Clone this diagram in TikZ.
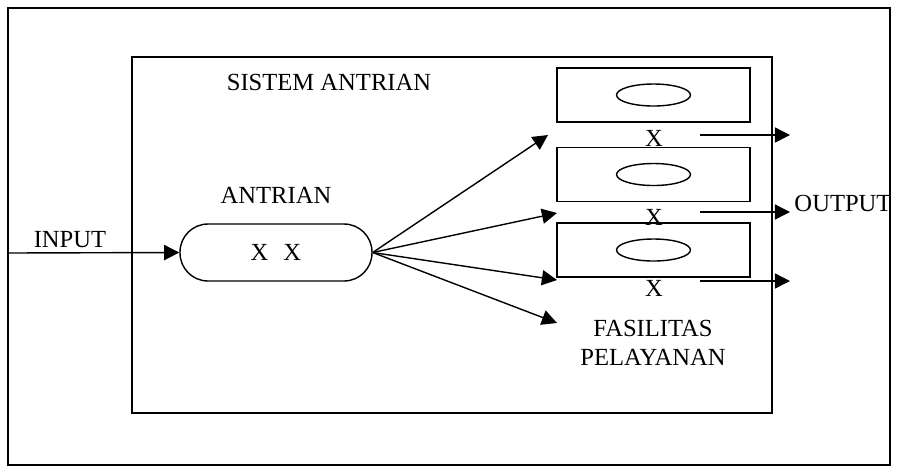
\documentclass[tikz,border=0pt]{standalone}
\usepackage{fontspec}
\setmainfont{Liberation Serif}
\usetikzlibrary{arrows.meta,positioning,shapes.geometric}

\begin{document}
\begin{tikzpicture}[x=0.02cm, y=-0.02cm, every node/.style={font=\fontsize{14}{16.5}\selectfont}, frame/.style={draw, line width=0.7pt}, server/.style={draw, line width=0.9pt, minimum width=3.86cm, minimum height=1.08cm, inner sep=0pt}, slot/.style={ellipse, draw, line width=0.8pt, minimum width=1.48cm, minimum height=0.44cm, inner sep=0pt}, queue/.style={draw, line width=0.8pt, rounded corners=0.56cm, minimum width=3.84cm, minimum height=1.14cm}, arrow/.style={-{Triangle[length=8.6pt, width=8.6pt]}, line width=0.8pt}]
\useasboundingbox (0,0) rectangle (897,468);
\draw[frame] (8,8) rectangle (890,465);
\draw[frame, line width=0.9pt] (132,57) rectangle (772,413);
\node (sistem) at (329,82) {SISTEM ANTRIAN};
% antrian
\node[queue] (queue) at (276,252.5) {X\hspace{0.3cm}X};
\node (antrian) [above=0.28cm of queue] {ANTRIAN};
\coordinate (in) at (8,253);
\node (input) at (70,240) {INPUT};
\draw[arrow] (in)--(queue.west);
% fasilitas pelayanan
\node[server] (s1) at (653.5,95) {};
\node[server] (s2) at (653.5,174.5) {};
\node[server] (s3) at (653.5,250) {};
\node[slot] (e1) at (s1.center) {};
\node[slot] (e2) at (s2.center) {};
\node[slot] (e3) at (s3.center) {};
\node (x1) at (654,138) {X};
\node (x2) at (654,217) {X};
\node (x3) at (654,288) {X};
\node[align=center] (fasilitas) at (653,343) {FASILITAS\\PELAYANAN};
\coordinate (t1) at (548,135); \coordinate (t2) at (557,213); \coordinate (t3) at (557,280); \coordinate (t4) at (557,323);
\draw[arrow] (queue.east)--(t1); \draw[arrow] (queue.east)--(t2); \draw[arrow] (queue.east)--(t3); \draw[arrow] (queue.east)--(t4);
% output
\coordinate (o1) at (700,135); \coordinate (o2) at (700,212); \coordinate (o3) at (700,281);
\coordinate (p1) at (790,135); \coordinate (p2) at (790,212); \coordinate (p3) at (790,281);
\draw[arrow] (o1)--(p1); \draw[arrow] (o2)--(p2); \draw[arrow] (o3)--(p3);
\node (output) at (843,203) {OUTPUT};
\end{tikzpicture}
\end{document}
